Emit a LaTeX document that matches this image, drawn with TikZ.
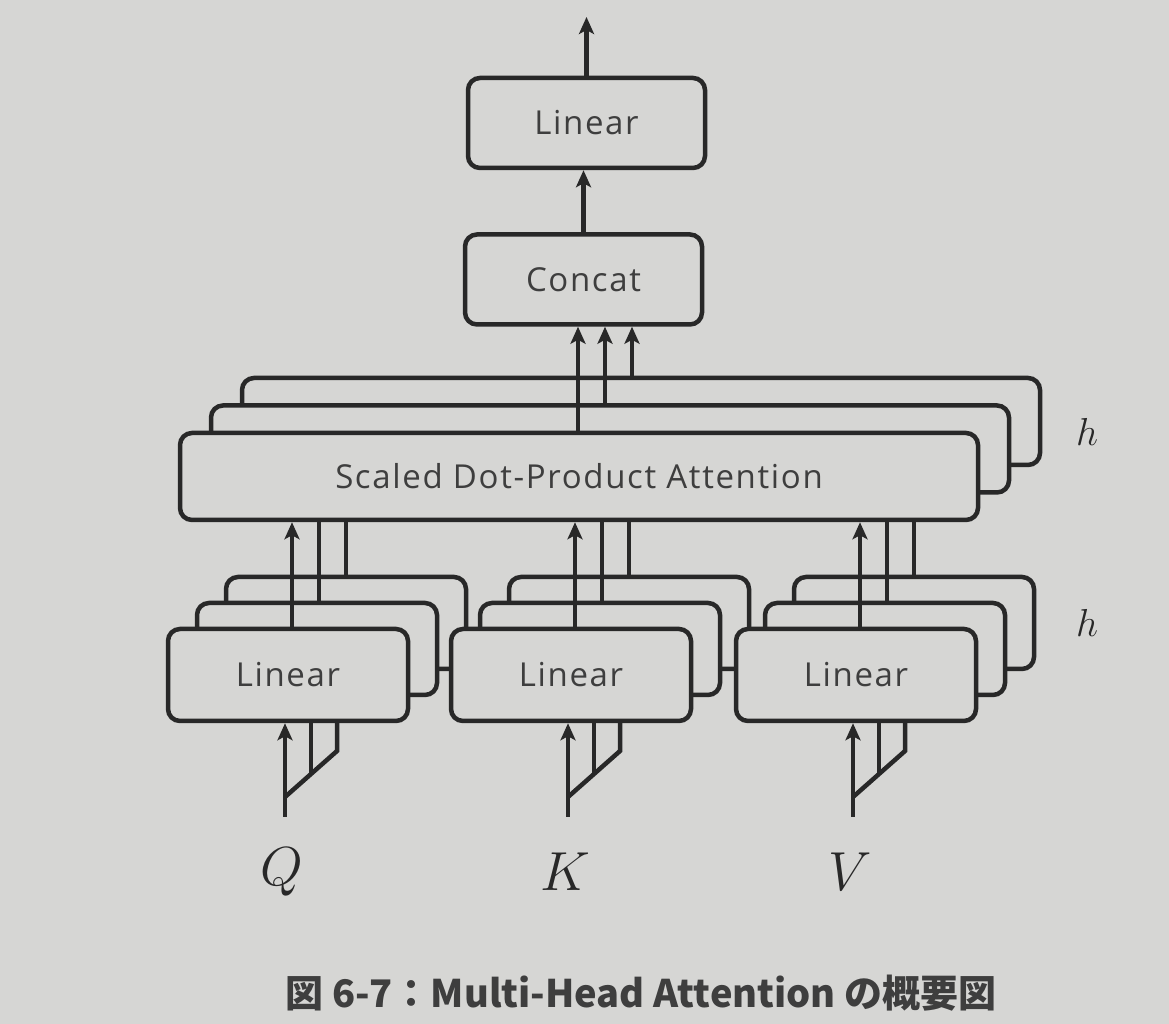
\RequirePackage{fix-cm}
\documentclass[tikz,border=0pt]{standalone}
\usepackage{fontspec}
\setsansfont{Open Sans}[LetterSpace=5]
\newfontfamily\jpfont{Noto Sans CJK JP}
\usetikzlibrary{arrows.meta,calc}
\definecolor{paper}{RGB}{214,214,212}
\definecolor{ink}{RGB}{40,40,40}
\definecolor{inktext}{RGB}{62,62,62}
\begin{document}
\begin{tikzpicture}[x=1pt,y=1pt,line width=4.5pt,color=ink,
  box/.style={draw,fill=paper,rounded corners=12pt,inner sep=0pt,text=inktext,
    font=\sffamily\fontsize{33}{38}\selectfont,minimum width=237pt,minimum height=90pt},
  linbox/.style={box,minimum width=240pt,minimum height=92pt},
  attbox/.style={box,minimum width=798pt,minimum height=87pt},
  flow/.style={-{Stealth[length=17pt,width=15pt,inset=4pt]}},
  qkv/.style={font=\fontsize{55}{60}\selectfont},
  heads/.style={font=\fontsize{39}{44}\selectfont}]
\fill[paper] (0,0) rectangle (1169,1024);
% linear heads for Q, K, V (back to front)
\foreach \s/\cx in {Q/288,K/571,V/856}{
  \foreach \i in {2,1}
    \node[linbox] (lin\s\i) at (\cx+29*\i,349+26*\i) {};
  \node[linbox] (lin\s0) at (\cx,349) {Linear};
}
\foreach \i in {2,1}
  \node[attbox] (att\i) at (579+31*\i,547.5+27.5*\i) {};
\node[attbox] (att0) at (579,547.5) {Scaled Dot-Product Attention};
\node[box] (concat) at (583.5,744.5) {Concat};
\node[box] (top) at (586.5,901) {Linear};
\coordinate (out) at (586.5,1007);

\foreach \s/\cx in {Q/288,K/571,V/856}{
  \node[qkv] (in\s) at (\cx-6,152) {$\s$};
  \coordinate (src\s) at (\cx-3,207);
  \coordinate (fork\s) at (\cx-3,227);
  \coordinate (forkend\s) at (\cx+49,273);
  \coordinate (forkmid\s) at ($(fork\s)!0.5!(forkend\s)$);
  \draw[flow] (src\s) -- (lin\s0.south -| src\s);
  \draw (fork\s) -- (forkend\s) -- (lin\s0.south -| forkend\s);
  \draw (forkmid\s) -- (lin\s0.south -| forkmid\s);
  \foreach \i in {0,1,2}
    \coordinate (up\s\i) at (\cx+4+27*\i,0);
  \draw[flow] (lin\s0.north -| up\s0) -- (att0.south -| up\s0);
  \foreach \i in {1,2}
    \draw (lin\s\i.north -| up\s\i) -- (att0.south -| up\s\i);
}
\foreach \i in {0,1,2}{
  \coordinate (cc\i) at (578+27*\i,0);
  \draw[flow] (att\i.north -| cc\i) -- (concat.south -| cc\i);
}
\draw[flow] (concat.north) -- (concat.north |- top.south);
\draw[flow] (top.north -| out) -- (out);
\node[heads] (hatt) at (1087,592) {$h$};
\node[heads] (hlin) at (1087,401) {$h$};
\node[font=\jpfont\bfseries\fontsize{38}{44}\selectfont,text=inktext] (caption) at (641,31) {図 6-7：Multi-Head Attention の概要図};
\end{tikzpicture}
\end{document}
